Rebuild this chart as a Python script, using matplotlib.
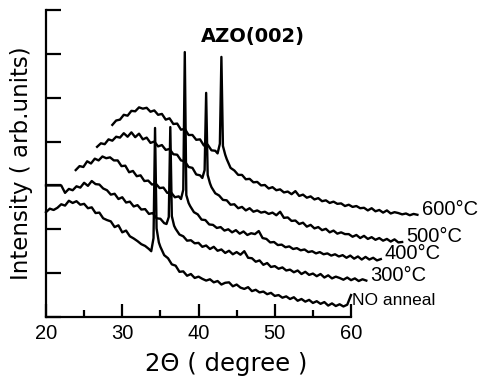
import numpy as np
import matplotlib
matplotlib.use("Agg")
import matplotlib.pyplot as plt

# ---- data (2theta in degree, intensity in arb. units, before stacking) ----
two_theta = np.r_[np.arange(20, 33.6, 0.5), [33.8, 34.1, 34.3, 34.5, 34.8], np.arange(35, 60.01, 0.5)]

no_anneal = [2.39, 2.47, 2.44, 2.49, 2.57, 2.54, 2.65, 2.60, 2.64, 2.56,
             2.58, 2.48, 2.50, 2.37, 2.38, 2.25, 2.21, 2.18, 2.05, 2.09,
             1.93, 1.97, 1.84, 1.79, 1.73, 1.66, 1.62, 1.55, 1.50, 1.80,
             4.31, 2.02, 1.70, 1.60, 1.41, 1.34, 1.20, 1.17, 1.03, 1.04,
             0.94, 0.98, 0.89, 0.92, 0.87, 0.83, 0.86, 0.79, 0.82, 0.74,
             0.78, 0.79, 0.70, 0.74, 0.67, 0.64, 0.68, 0.59, 0.62, 0.56,
             0.58, 0.52, 0.55, 0.48, 0.50, 0.44, 0.47, 0.41, 0.45, 0.37,
             0.41, 0.35, 0.39, 0.32, 0.36, 0.30, 0.34, 0.26, 0.31, 0.25,
             0.29, 0.24, 0.28, 0.50]

t300 = [2.50, 2.33, 2.42, 2.39, 2.48, 2.45, 2.56, 2.49, 2.60, 2.53,
        2.52, 2.43, 2.39, 2.29, 2.31, 2.19, 2.23, 2.11, 2.13, 2.02,
        2.05, 1.95, 1.96, 1.85, 1.87, 1.75, 1.74, 1.64, 1.62, 1.78,
        3.83, 1.80, 1.58, 1.51, 1.38, 1.34, 1.24, 1.25, 1.18, 1.19,
        1.10, 1.13, 1.05, 1.10, 1.01, 1.04, 0.96, 1.01, 0.93, 0.98,
        0.92, 1.00, 0.85, 0.84, 0.76, 0.79, 0.69, 0.73, 0.64, 0.66,
        0.60, 0.63, 0.56, 0.58, 0.52, 0.56, 0.48, 0.53, 0.46, 0.49,
        0.43, 0.48, 0.40, 0.45, 0.38, 0.42, 0.39, 0.35, 0.40, 0.34,
        0.38, 0.32, 0.36, 0.33]
t300_lead = (18.0, 2.50)

t400 = [2.35, 2.44, 2.42, 2.55, 2.50, 2.61, 2.57, 2.66, 2.62, 2.64,
        2.57, 2.57, 2.44, 2.45, 2.30, 2.33, 2.21, 2.23, 2.10, 2.11,
        2.02, 2.04, 1.94, 1.95, 1.83, 1.84, 1.73, 1.75, 1.69, 1.90,
        5.04, 1.78, 1.60, 1.53, 1.39, 1.34, 1.22, 1.21, 1.11, 1.10,
        1.03, 1.05, 0.97, 1.00, 0.93, 0.98, 0.90, 0.95, 0.87, 0.91,
        0.89, 0.96, 0.80, 0.78, 0.70, 0.71, 0.64, 0.65, 0.59, 0.61,
        0.55, 0.57, 0.52, 0.54, 0.48, 0.50, 0.45, 0.48, 0.43, 0.45,
        0.40, 0.43, 0.38, 0.41, 0.35, 0.40, 0.33, 0.38, 0.31, 0.37,
        0.31, 0.35, 0.29, 0.32]

t500 = [2.38, 2.46, 2.44, 2.55, 2.52, 2.61, 2.59, 2.69, 2.61, 2.71,
        2.60, 2.68, 2.55, 2.59, 2.47, 2.50, 2.39, 2.42, 2.31, 2.33,
        2.21, 2.20, 2.07, 2.05, 1.92, 1.90, 1.75, 1.73, 1.67, 1.85,
        3.61, 1.74, 1.55, 1.46, 1.32, 1.27, 1.17, 1.16, 1.06, 1.07,
        0.98, 1.01, 0.93, 0.98, 0.90, 0.93, 0.88, 0.90, 0.85, 0.88,
        0.82, 0.90, 0.76, 0.77, 0.69, 0.70, 0.62, 0.65, 0.56, 0.60,
        0.52, 0.55, 0.48, 0.51, 0.43, 0.47, 0.40, 0.43, 0.39, 0.39,
        0.33, 0.37, 0.30, 0.35, 0.28, 0.32, 0.26, 0.30, 0.24, 0.28,
        0.22, 0.27, 0.20, 0.21]

t600 = [2.38, 2.48, 2.50, 2.61, 2.59, 2.70, 2.69, 2.78, 2.75, 2.77,
        2.68, 2.71, 2.61, 2.63, 2.50, 2.53, 2.40, 2.41, 2.27, 2.29,
        2.15, 2.15, 2.04, 2.05, 1.91, 1.93, 1.80, 1.79, 1.73, 1.95,
        3.93, 1.90, 1.70, 1.60, 1.40, 1.34, 1.24, 1.24, 1.14, 1.15,
        1.07, 1.08, 1.00, 1.01, 0.93, 0.96, 0.89, 0.91, 0.84, 0.86,
        0.80, 0.87, 0.76, 0.79, 0.72, 0.75, 0.68, 0.71, 0.64, 0.66,
        0.60, 0.63, 0.58, 0.59, 0.53, 0.56, 0.51, 0.53, 0.48, 0.49,
        0.43, 0.48, 0.41, 0.44, 0.38, 0.43, 0.36, 0.39, 0.37, 0.34,
        0.36, 0.32, 0.35, 0.33]

labels = ["NO anneal", "300°C", "400°C", "500°C", "600°C"]
series = [no_anneal, t300, t400, t500, t600]

# waterfall stacking offsets
x_shift = [0, 2.0, 3.9, 6.7, 8.7]
y_shift = [0, 0.5, 1.0, 1.5, 2.0]

# ---- figure ----
fig = plt.figure(figsize=(4.81, 3.84), dpi=100)
ax = fig.add_axes([0.0956, 0.1745, 0.7484, 0.7995])

for i, (lab, ys) in enumerate(zip(labels, series)):
    xs = list(two_theta)
    yy = list(ys)
    if lab == "300°C":
        xs = [t300_lead[0]] + xs
        yy = [t300_lead[1]] + yy
    xs = np.array(xs) + x_shift[i]
    yy = np.array(yy) + y_shift[i]
    ax.plot(xs, yy, color="black", lw=1.7, clip_on=False)
    if lab == "NO anneal":
        ax.annotate(lab, (xs[-1], yy[-1]), xytext=(1, -4), textcoords="offset points",
                    va="center", ha="left", fontsize=12.5, family="Liberation Sans",
                    annotation_clip=False)
    else:
        ax.annotate(lab, (xs[-1], yy[-1]), xytext=(3, 4), textcoords="offset points",
                    va="center", ha="left", fontsize=14.5, family="Liberation Sans",
                    annotation_clip=False)

ax.text(47.1, 6.4, "AZO(002)", fontsize=14, fontweight="bold", ha="center", va="center")

ax.set_xlim(20, 67.2)
ax.set_ylim(0, 7)
ax.spines["top"].set_visible(False)
ax.spines["right"].set_visible(False)
ax.spines["left"].set_linewidth(1.6)
ax.spines["bottom"].set_linewidth(1.6)
ax.spines["bottom"].set_bounds(20, 60)

ax.set_xticks([20, 30, 40, 50, 60])
ax.set_xticks([25, 35, 45, 55], minor=True)
ax.set_yticks(range(0, 8))
ax.set_yticklabels([])
ax.tick_params(axis="x", which="major", direction="in", length=9.5, width=1.6, pad=5, labelsize=14.5)
ax.tick_params(axis="x", which="minor", direction="in", length=5, width=1.6)
ax.tick_params(axis="y", direction="in", length=11, width=1.6)
for t in ax.get_xticklabels():
    t.set_family("Liberation Sans")

ax.set_xlabel("2Θ ( degree )", fontsize=17.5)
ax.xaxis.set_label_coords(0.5, -0.115)
ax.set_ylabel("Intensity ( arb.units)", fontsize=16.5)
ax.yaxis.set_label_coords(-0.035, 0.5)

fig.savefig("out.png", dpi=100)
